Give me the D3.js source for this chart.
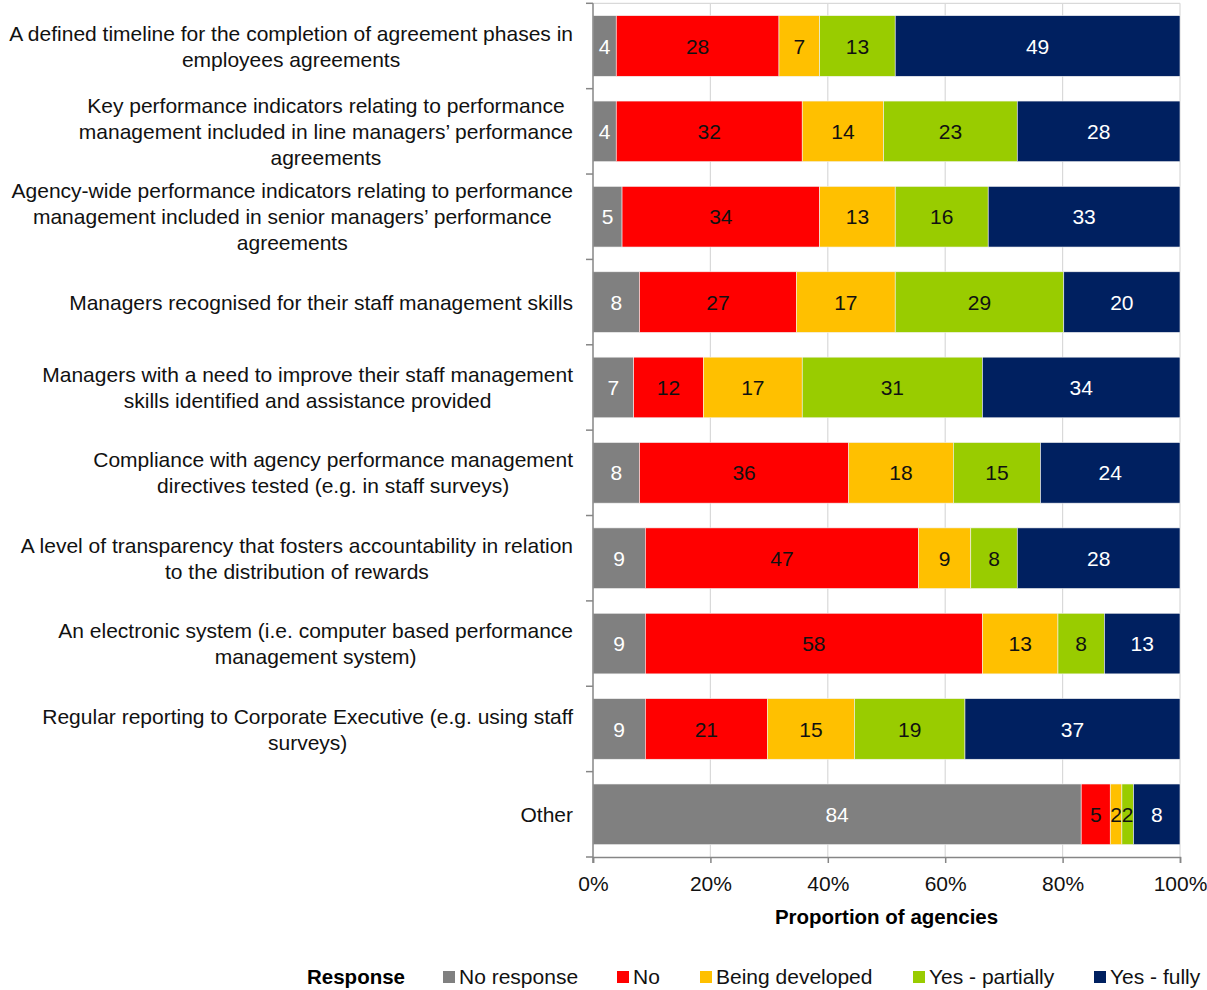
<!DOCTYPE html>
<html><head><meta charset="utf-8">
<script src="https://cdn.jsdelivr.net/npm/d3@7"></script>
<style>
body{margin:0;background:#fff}
text{font-family:"Liberation Sans",Arial,Helvetica,sans-serif}
</style>
</head><body>
<svg id="c" width="1207" height="990"></svg>
<script>
const categories = [
  ["A defined timeline for the completion of agreement phases in","employees agreements"],
  ["Key performance indicators relating to performance","management included in line managers\u2019 performance","agreements"],
  ["Agency-wide performance indicators relating to performance","management included in senior managers\u2019 performance","agreements"],
  ["Managers recognised for their staff management skills"],
  ["Managers with a need to improve their staff management","skills identified and assistance provided"],
  ["Compliance with agency performance management","directives tested (e.g. in staff surveys)"],
  ["A level of transparency that fosters accountability in relation","to the distribution of rewards"],
  ["An electronic system (i.e. computer based performance","management system)"],
  ["Regular reporting to Corporate Executive (e.g. using staff","surveys)"],
  ["Other"]
];
const seriesNames = ["No response","No","Being developed","Yes - partially","Yes - fully"];
const noResponse     = [4, 4, 5, 8, 7, 8, 9, 9, 9, 84];
const no             = [28,32,34,27,12,36,47,58,21, 5];
const beingDeveloped = [7, 14,13,17,17,18, 9,13,15, 2];
const yesPartially   = [13,23,16,29,31,15, 8, 8,19, 2];
const yesFully       = [49,28,33,20,34,24,28,13,37, 8];
const xTickValues = [0,0.2,0.4,0.6,0.8,1];
const colors = ["#808080","#ff0000","#ffc000","#99cc00","#002060"];
const labelColors = ["#ffffff","#111111","#111111","#111111","#ffffff"];

const seriesValues = [noResponse, no, beingDeveloped, yesPartially, yesFully];
const rows = categories.map((c,i)=>{
  const r = {idx:i};
  seriesNames.forEach((s,j)=>r[s]=seriesValues[j][i]);
  return r;
});
const stack = d3.stack().keys(seriesNames).offset(d3.stackOffsetExpand);
const stacked = stack(rows);

const svg = d3.select("#c");
const L = 593, R = 1180, T = 3.3, B = 857;
const FS = 21;
const x = d3.scaleLinear().domain([0,1]).range([L,R]);
const y = d3.scaleBand().domain(d3.range(categories.length)).range([T,B]).paddingInner(0.29).paddingOuter(0.145);
const step = y.step();

// gridlines
svg.append("g").selectAll("line").data(xTickValues.slice(1)).join("line")
  .attr("x1",d=>x(d)).attr("x2",d=>x(d)).attr("y1",T).attr("y2",B)
  .attr("stroke","#d9d9d9").attr("stroke-width",1.2);
svg.append("line").attr("x1",L).attr("x2",R).attr("y1",T).attr("y2",T)
  .attr("stroke","#d9d9d9").attr("stroke-width",1.2);

// bars
const g = svg.append("g");
stacked.forEach((s,j)=>{
  const gg = g.append("g");
  gg.selectAll("rect").data(s).join("rect")
    .attr("x",d=>x(d[0])).attr("width",d=>x(d[1])-x(d[0]))
    .attr("y",(d,i)=>y(i)).attr("height",y.bandwidth())
    .attr("fill",colors[j]).attr("stroke","#f2f2f2").attr("stroke-width",0.6);
  gg.selectAll("text").data(s).join("text")
    .attr("x",d=>(x(d[0])+x(d[1]))/2).attr("y",(d,i)=>y(i)+y.bandwidth()/2)
    .attr("dy","0.36em").attr("text-anchor","middle")
    .attr("font-size",FS)
    .attr("fill",labelColors[j])
    .text(d=>seriesValues[j][d.data.idx]);
});

// left axis
const axisColor = "#868686";
svg.append("line").attr("x1",L).attr("x2",L).attr("y1",T).attr("y2",B+6)
  .attr("stroke",axisColor).attr("stroke-width",1.5);
svg.append("g").selectAll("line").data(d3.range(categories.length+1)).join("line")
  .attr("x1",L-7).attr("x2",L).attr("y1",k=>T+k*step).attr("y2",k=>T+k*step)
  .attr("stroke",axisColor).attr("stroke-width",1.5);

// bottom axis
const xAxis = d3.axisBottom(x).tickValues(xTickValues).tickFormat(d3.format(".0%")).tickSize(6).tickPadding(13);
const ax = svg.append("g").attr("transform",`translate(0,${B})`).call(xAxis);
ax.select(".domain").attr("stroke",axisColor).attr("stroke-width",1.5);
ax.selectAll(".tick line").attr("stroke",axisColor).attr("stroke-width",1.5);
ax.selectAll(".tick text").attr("font-size",FS)
  .attr("fill","#111").style("font-family","'Liberation Sans',Arial,sans-serif");

svg.append("text").attr("x",(L+R)/2).attr("y",917).attr("dy","0.35em")
  .attr("text-anchor","middle").attr("font-size",20.5).attr("font-weight","bold")
  .attr("fill","#000").text("Proportion of agencies");

// category labels
const catG = svg.append("g");
categories.forEach((lines,i)=>{
  const cy = y(i)+y.bandwidth()/2;
  const lh = 26;
  const t = catG.append("text").attr("font-size",FS).attr("fill","#111");
  const spans = lines.map((ln,k)=>t.append("tspan").attr("y",cy+(k-(lines.length-1)/2)*lh).attr("dy","0.36em").text(ln));
  const widths = spans.map(s=>s.node().getComputedTextLength());
  const maxW = d3.max(widths);
  const cx = 573 - maxW/2;
  spans.forEach(s=>s.attr("x",cx).attr("text-anchor","middle"));
});

// legend
const ly = 977;
svg.append("text").attr("x",307).attr("y",ly).attr("dy","0.35em").attr("font-size",20.5)
  .attr("font-weight","bold").attr("fill","#000").text("Response");
const legendX = [443,617,700,913,1094];
seriesNames.forEach((s,j)=>{
  svg.append("rect").attr("x",legendX[j]).attr("y",ly-6).attr("width",12).attr("height",12).attr("fill",colors[j]);
  svg.append("text").attr("x",legendX[j]+16).attr("y",ly).attr("dy","0.35em").attr("font-size",FS)
    .attr("fill","#111").text(s);
});
</script>
</body></html>
